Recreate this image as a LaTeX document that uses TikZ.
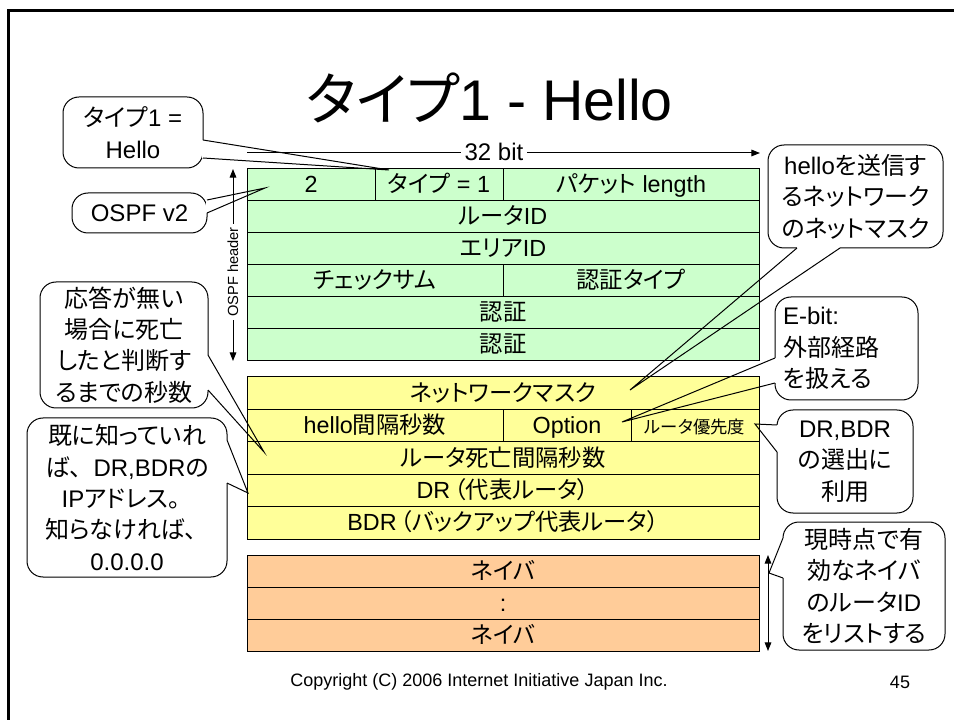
\documentclass[tikz,border=0pt]{standalone}
\usepackage{fontspec}
\setmainfont{Liberation Sans}
\newfontfamily\jpf[RawFeature={+palt}]{Noto Sans CJK JP}
\newfontfamily\jpn{Noto Sans CJK JP}
\newcommand\J[1]{{\jpf #1}}
\newcommand\JN[1]{{\jpn #1}}
\usetikzlibrary{arrows.meta,calc}
\definecolor{grn}{RGB}{204,255,204}
\definecolor{ylw}{RGB}{255,255,153}
\definecolor{org}{RGB}{255,204,153}
\newcommand\cellbox[7]{%
  \draw[tbl,fill=#6] (#2,#3) rectangle (#4,#5);
  \node[cell] (#1) at ({(#2+#4)/2},{(#3+#5)/2}) {#7};}
\newcommand\ptr[3]{%
  \draw[white,line width=2pt,line cap=butt] #1 -- #2;
  \draw[line width=0.75pt,line join=miter] #1 -- #3 -- #2;}
\begin{document}
\begin{tikzpicture}[x=0.75pt,y=-0.75pt,
  tbl/.style={draw=black,line width=0.75pt},
  cell/.style={font=\fontsize{17.5}{20}\selectfont,inner sep=0pt,text height=14pt,text depth=2pt},
  callout/.style={draw=black,line width=0.75pt,fill=white,rounded corners=12pt,inner sep=0pt,align=center,
    font=\fontsize{18}{23.6}\selectfont},
  tip/.style={-{Triangle[length=6.5pt,width=5pt]}},
  dtip/.style={{Triangle[length=6.5pt,width=5pt]}-{Triangle[length=6.5pt,width=5pt]}}]
\useasboundingbox (0,0) rectangle (954,720);
% frame
\draw[line width=1.9pt] (8.7,720) -- (8.7,10.3) -- (954,10.3);
% title
\node[anchor=base,inner sep=0pt] (title) at (489.5,121) {\fontsize{43}{50}\selectfont\J{タイプ}1 - Hello};
% 32 bit arrow
\coordinate (bitL) at (247,153);
\coordinate (bitR) at (760,153);
\draw[line width=0.75pt,tip] (bitL) -- (bitR);
\node[fill=white,inner sep=3pt,font=\fontsize{18}{20}\selectfont,text height=13pt,text depth=1pt] (bit) at (494,153) {32 bit};
% OSPF header arrow
\coordinate (hT) at (233,169);
\coordinate (hB) at (233,361);
\draw[line width=0.75pt,dtip] (hB) -- (hT);
\node[fill=white,rotate=90,inner sep=2.5pt,font=\fontsize{11}{13}\selectfont] (hdr) at (233,272) {OSPF header};
% green header
\cellbox{g1a}{247}{169}{375}{201}{grn}{2}
\cellbox{g1b}{375}{169}{503}{201}{grn}{\J{タイプ} = 1}
\cellbox{g1c}{503}{169}{759}{201}{grn}{\J{パケット} length}
\cellbox{g2}{247}{201}{759}{233}{grn}{\J{ルータ}ID}
\cellbox{g3}{247}{233}{759}{265}{grn}{\J{エリア}ID}
\cellbox{g4a}{247}{265}{503}{297}{grn}{\J{チェックサム}}
\cellbox{g4b}{503}{265}{759}{297}{grn}{\J{認証タイプ}}
\cellbox{g5}{247}{297}{759}{329}{grn}{\J{認証}}
\cellbox{g6}{247}{329}{759}{361}{grn}{\J{認証}}
% yellow
\cellbox{y1}{247}{377}{759}{409.4}{ylw}{\J{ネットワークマスク}}
\cellbox{y2a}{247}{409.4}{503}{441.8}{ylw}{hello\J{間隔秒数}}
\cellbox{y2b}{503}{409.4}{631}{441.8}{ylw}{Option}
\cellbox{y2c}{631}{409.4}{759}{441.8}{ylw}{\fontsize{13}{15}\selectfont\J{ルータ優先度}}
\cellbox{y3}{247}{441.8}{759}{474.2}{ylw}{\J{ルータ死亡間隔秒数}}
\cellbox{y4}{247}{474.2}{759}{506.6}{ylw}{DR\,\J{（代表ルータ）}}
\cellbox{y5}{247}{506.6}{759}{539}{ylw}{BDR\,\J{（バックアップ代表ルータ）}}
% orange
\cellbox{o1}{247}{555}{759}{587}{org}{\J{ネイバ}}
\cellbox{o2}{247}{587}{759}{619}{org}{:}
\cellbox{o3}{247}{619}{759}{651}{org}{\J{ネイバ}}
\coordinate (nT) at (768,555);
\coordinate (nB) at (768,651);
\draw[line width=0.75pt,dtip] (nB) -- (nT);
% callouts
\node[callout,minimum width=105pt,minimum height=53.25pt] (c1) at (133,132.5) {\J{タイプ}1 =\\Hello};
\node[callout,minimum width=101.25pt,minimum height=30pt] (c2) at (139.5,213) {OSPF v2};
\node[callout,minimum width=126pt,minimum height=94.5pt] (c3) at (124,345) {\J{応答が無い}\\\J{場合に死亡}\\\J{したと判断す}\\\J{るまでの秒数}};
\node[callout,minimum width=150pt,minimum height=119.25pt] (c4) at (127,497.5) {\J{既に知っていれ}\\\J{ば}\JN{、}DR,BDR\J{の}\\IP\J{アドレス}\JN{。}\\\J{知らなければ}\JN{、}\\0.0.0.0};
\node[callout,minimum width=131.25pt,minimum height=77.25pt] (c5) at (855.5,196.5) {hello\J{を送信す}\\\J{るネットワーク}\\\J{のネットマスク}};
\node[callout,align=left,text width=95.25pt,inner xsep=6pt,minimum height=77.25pt] (c6) at (846.5,348.5) {E-bit:\\\J{外部経路}\\\J{を扱える}};
\node[callout,minimum width=102pt,minimum height=77.25pt] (c7) at (845,461.5) {DR,BDR\\\J{の選出に}\\\J{利用}};
\node[callout,minimum width=121.5pt,minimum height=96pt] (c8) at (864,586) {\J{現時点で有}\\\J{効なネイバ}\\\J{のルータ}ID\\\J{をリストする}};
% pointers
\coordinate (t1) at (389,170);
\coordinate (t2) at (265,188);
\coordinate (t3) at (264,452);
\coordinate (t4) at (248,493);
\coordinate (t5) at (630,390);
\coordinate (t6) at (622,422);
\coordinate (t7) at (755,424);
\coordinate (t8) at (769,573);
\ptr{(203,140)}{(203,158)}{(t1)}
\ptr{(207,200)}{(207,213)}{(t2)}
\ptr{(208,355)}{(208,390)}{(t3)}
\ptr{(227,440)}{(227,483)}{(t4)}
\ptr{(797,248)}{(840,248)}{(t5)}
\ptr{(775,358)}{(775,383)}{(t6)}
\ptr{(777,425)}{(777,452)}{(t7)}
\ptr{(783,538)}{(783,578)}{(t8)}
% footer
\node[inner sep=0pt,font=\fontsize{13.5}{16}\selectfont] (copy) at (479,682) {Copyright (C) 2006 Internet Initiative Japan Inc.};
\node[inner sep=0pt,font=\fontsize{13.5}{16}\selectfont] (pg) at (900,682) {45};
\end{tikzpicture}
\end{document}
